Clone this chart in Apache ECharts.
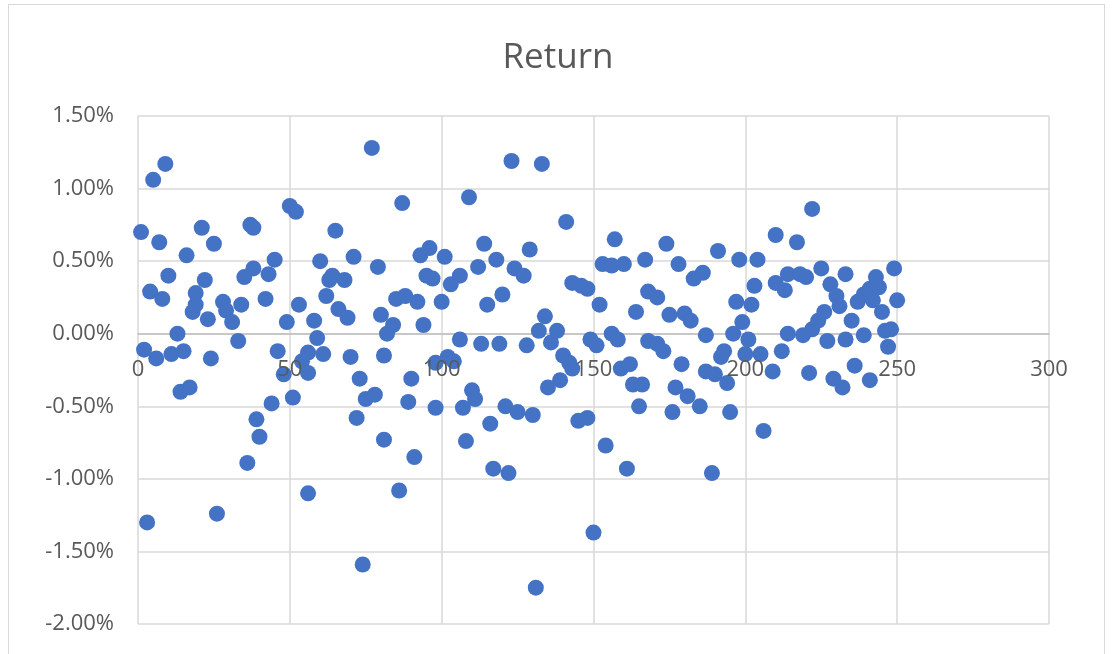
<!DOCTYPE html>
<html>
<head>
<meta charset="utf-8">
<script src="https://cdn.jsdelivr.net/npm/echarts@6/dist/echarts.min.js"></script>
<style>
  html, body { margin: 0; padding: 0; background: #ffffff; }
  #frame { position: absolute; left: 8px; top: 4px; width: 1097px; height: 660px; border: 1.5px solid #d9d9d9; box-sizing: border-box; }
  #chart { position: absolute; left: 0; top: 0; width: 1116px; height: 654px; }
</style>
</head>
<body>
<div id="frame"></div>
<div id="chart"></div>
<script>
// Day index of each observation
const days = [
  1, 2, 3, 4, 5, 6, 7, 8, 9, 10, 11, 13, 14, 15, 16, 17, 18, 19, 19, 21,
  22, 23, 24, 25, 26, 28, 29, 31, 33, 34, 35, 36, 37, 38, 38, 39, 40, 42, 43, 44,
  45, 46, 48, 49, 50, 51, 52, 53, 54, 56, 56, 56, 58, 59, 60, 61, 62, 63, 64, 65,
  66, 68, 69, 70, 71, 72, 73, 74, 75, 77, 78, 79, 80, 81, 81, 82, 84, 85, 86, 87,
  88, 89, 90, 91, 92, 93, 94, 95, 96, 97, 98, 98, 100, 101, 102, 103, 104, 106, 106, 107,
  108, 109, 110, 111, 112, 113, 114, 115, 116, 117, 118, 119, 120, 121, 122, 123, 124, 125, 127, 128,
  129, 130, 131, 132, 133, 134, 135, 136, 138, 139, 140, 141, 142, 143, 143, 145, 146, 148, 148, 149,
  150, 151, 152, 153, 154, 156, 156, 157, 158, 159, 160, 161, 162, 163, 164, 165, 166, 167, 168, 168,
  171, 171, 173, 174, 175, 176, 177, 178, 179, 180, 181, 182, 183, 185, 186, 187, 187, 189, 190, 191,
  192, 193, 194, 195, 196, 197, 198, 199, 200, 201, 202, 203, 204, 205, 206, 209, 210, 210, 212, 213,
  214, 214, 217, 218, 219, 220, 221, 222, 222, 224, 225, 226, 227, 228, 229, 230, 231, 232, 233, 233,
  235, 236, 237, 239, 239, 241, 241, 242, 243, 244, 245, 246, 247, 248, 249, 250
];

// Daily return, in percent
const returns = [
  0.70, -0.11, -1.30, 0.29, 1.06, -0.17, 0.63, 0.24, 1.17, 0.40, -0.14, 0.00, -0.40, -0.12, 0.54, -0.37, 0.15, 0.28, 0.20, 0.73,
  0.37, 0.10, -0.17, 0.62, -1.24, 0.22, 0.16, 0.08, -0.05, 0.20, 0.39, -0.89, 0.75, 0.73, 0.45, -0.59, -0.71, 0.24, 0.41, -0.48,
  0.51, -0.12, -0.28, 0.08, 0.88, -0.44, 0.84, 0.20, -0.19, -0.27, -0.13, -1.10, 0.09, -0.03, 0.50, -0.14, 0.26, 0.37, 0.40, 0.71,
  0.17, 0.37, 0.11, -0.16, 0.53, -0.58, -0.31, -1.59, -0.45, 1.28, -0.42, 0.46, 0.13, -0.15, -0.73, 0.00, 0.06, 0.24, -1.08, 0.90,
  0.26, -0.47, -0.31, -0.85, 0.22, 0.54, 0.06, 0.40, 0.59, 0.38, -0.51, -0.20, 0.22, 0.53, -0.16, 0.34, -0.19, 0.40, -0.04, -0.51,
  -0.74, 0.94, -0.39, -0.45, 0.46, -0.07, 0.62, 0.20, -0.62, -0.93, 0.51, -0.07, 0.27, -0.50, -0.96, 1.19, 0.45, -0.54, 0.40, -0.08,
  0.58, -0.56, -1.75, 0.02, 1.17, 0.12, -0.37, -0.06, 0.02, -0.32, -0.15, 0.77, -0.20, -0.24, 0.35, -0.60, 0.33, 0.31, -0.58, -0.04,
  -1.37, -0.08, 0.20, 0.48, -0.77, 0.00, 0.47, 0.65, -0.04, -0.24, 0.48, -0.93, -0.21, -0.35, 0.15, -0.50, -0.35, 0.51, 0.29, -0.05,
  0.25, -0.07, -0.12, 0.62, 0.13, -0.54, -0.37, 0.48, -0.21, 0.14, -0.43, 0.09, 0.38, -0.50, 0.42, -0.01, -0.26, -0.96, -0.28, 0.57,
  -0.16, -0.12, -0.34, -0.54, 0.00, 0.22, 0.51, 0.08, -0.14, -0.04, 0.20, 0.33, 0.51, -0.14, -0.67, -0.26, 0.68, 0.35, -0.12, 0.30,
  0.00, 0.41, 0.63, 0.41, -0.01, 0.39, -0.27, 0.86, 0.03, 0.09, 0.45, 0.15, -0.05, 0.34, -0.31, 0.26, 0.19, -0.37, 0.41, -0.04,
  0.09, -0.22, 0.22, 0.27, -0.01, 0.31, -0.32, 0.23, 0.39, 0.32, 0.15, 0.02, -0.09, 0.03, 0.45, 0.23
];

const xTicks = { min: 0, max: 300, step: 50 };
const yTicks = { min: -2, max: 1.5, step: 0.5 };

const points = days.map((d, i) => [d, returns[i]]);

const chart = echarts.init(document.getElementById('chart'), null, { renderer: 'canvas' });
const textColor = '#595959';
const gridColor = '#d9d9d9';
const fontFamily = '"Open Sans", "Noto Sans", sans-serif';

// Plot box in pixels; the horizontal axis sits on the 0% line inside it
const plot = { left: 138, right: 67, top: 116, bottom: 30 };
const plotHeight = 654 - plot.top - plot.bottom;
const zeroOffset = plotHeight * (0 - yTicks.min) / (yTicks.max - yTicks.min);

const xScale = { type: 'value', min: xTicks.min, max: xTicks.max, interval: xTicks.step };

chart.setOption({
  backgroundColor: 'transparent',
  animation: false,
  title: {
    text: 'Return',
    left: 'center',
    top: 36,
    textStyle: { fontFamily, fontSize: 35, fontWeight: 'normal', color: textColor }
  },
  grid: Object.assign({ outerBoundsMode: 'none', containLabel: false }, plot),
  xAxis: [
    // gridlines and the 0% axis line, behind the markers
    Object.assign({}, xScale, {
      position: 'bottom',
      offset: -zeroOffset,
      z: 0,
      axisLine: { show: true, onZero: false, lineStyle: { color: '#bfbfbf', width: 1.5 } },
      axisTick: { show: false },
      axisLabel: { show: false },
      splitLine: { show: true, lineStyle: { color: gridColor, width: 1.5 } }
    }),
    // tick labels drawn above the markers
    Object.assign({}, xScale, {
      position: 'bottom',
      offset: -zeroOffset,
      z: 10,
      axisLine: { show: false, onZero: false },
      axisTick: { show: false },
      axisLabel: { color: textColor, fontFamily, fontSize: 22, margin: 25 },
      splitLine: { show: false }
    })
  ],
  yAxis: {
    type: 'value',
    min: yTicks.min,
    max: yTicks.max,
    interval: yTicks.step,
    axisLine: { show: false },
    axisTick: { show: false },
    axisLabel: {
      color: textColor, fontFamily, fontSize: 22, margin: 24,
      formatter: v => v.toFixed(2) + '%'
    },
    splitLine: { show: true, lineStyle: { color: gridColor, width: 1.5 } }
  },
  series: [{
    type: 'scatter',
    xAxisIndex: 0,
    data: points,
    symbol: 'circle',
    symbolSize: 16,
    itemStyle: { color: '#4472c4', opacity: 1 }
  }]
});
</script>
</body>
</html>
